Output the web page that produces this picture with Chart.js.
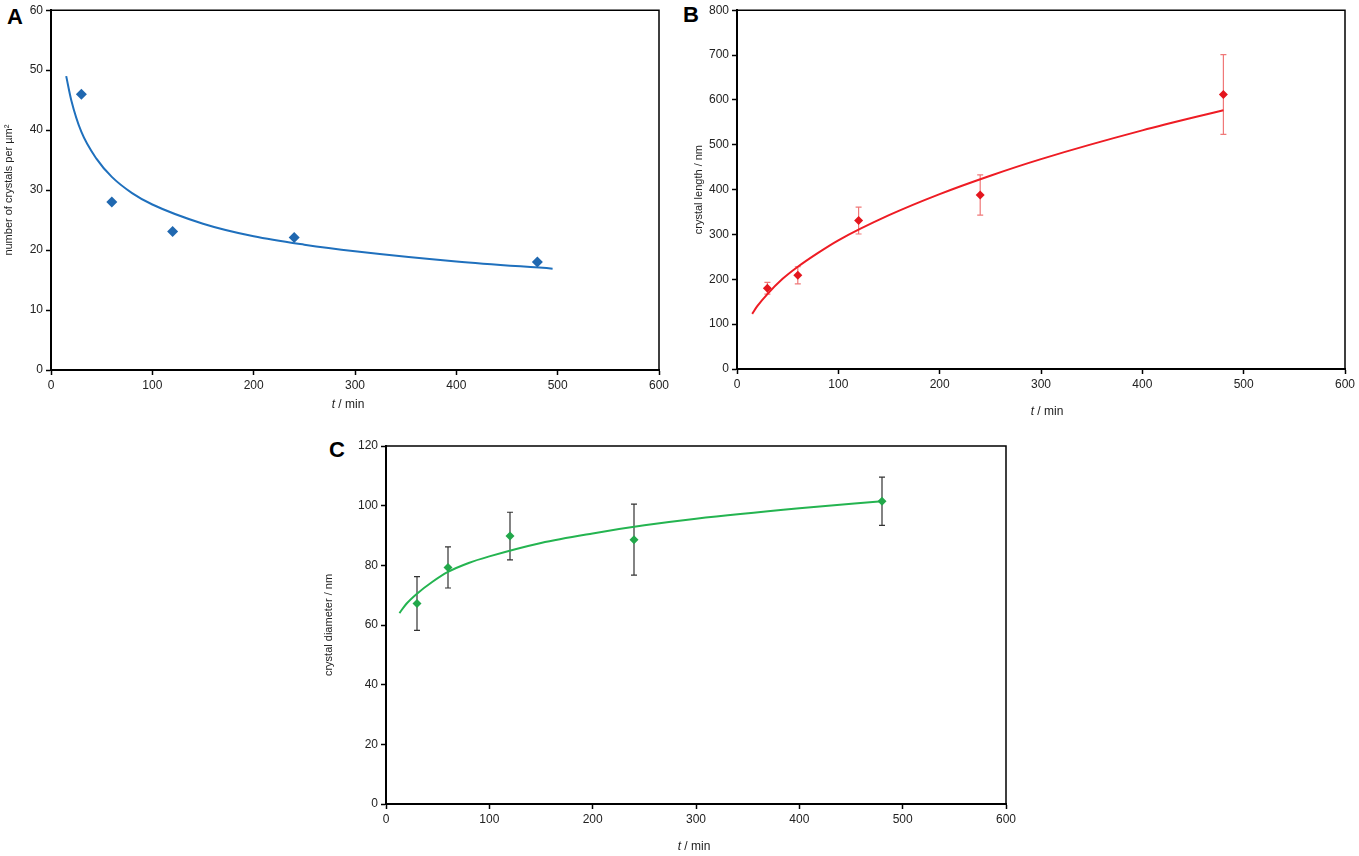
<!DOCTYPE html>
<html>
<head>
<meta charset="utf-8">
<script src="https://cdn.jsdelivr.net/npm/chart.js@4/dist/chart.umd.min.js"></script>
<style>
  body { margin: 0; background: #fff; width: 1359px; height: 856px; position: relative; overflow: hidden; font-family: "Liberation Sans", Arial, sans-serif; }
  canvas { position: absolute; }
  .panel { position: absolute; font-weight: bold; font-size: 22px; color: #000; }
  .xt { position: absolute; font-size: 12px; color: #222; transform: translateX(-50%); white-space: nowrap; }
</style>
</head>
<body>
<div class="panel" style="left:7px;top:4px">A</div>
<div class="panel" style="left:683px;top:2px">B</div>
<div class="panel" style="left:329px;top:437px">C</div>

<canvas id="chartA" width="675" height="420" style="left:0;top:0"></canvas>
<canvas id="chartB" width="669" height="420" style="left:690px;top:0"></canvas>
<canvas id="chartC" width="702" height="426" style="left:320px;top:430px"></canvas>

<div class="xt" style="left:348px;top:397px"><i>t</i> / min</div>
<div class="xt" style="left:1047px;top:404px"><i>t</i> / min</div>
<div class="xt" style="left:694px;top:839px"><i>t</i> / min</div>

<script>
// measured times (min)
let times = [30, 60, 120, 240, 480];

// A: number of crystals per µm²
let countA = [46, 28, 23.1, 22.1, 18];
let fitTimesA = [15, 20, 30, 45, 60, 80, 100, 150, 200, 250, 300, 400, 495];
let fitA = [49, 45, 39.7, 35.2, 32.2, 29.5, 27.6, 24.4, 22.3, 20.9, 19.8, 18.1, 16.9];

// B: crystal length (nm)
let lengthB = [180, 209, 331, 388, 612];
let errB = [13, 19, 30, 45, 89];
let fitTimesB = [15, 20, 30, 45, 60, 80, 100, 150, 200, 250, 300, 400, 480];
let fitB = [123, 140, 167, 201, 228, 259, 287, 343, 390, 431, 468, 532, 577];

// C: crystal diameter (nm)
let diamC = [67.2, 79.3, 89.8, 88.6, 101.5];
let errC = [9, 6.9, 8, 11.9, 8.1];
let fitTimesC = [13, 20, 30, 45, 60, 80, 100, 150, 200, 250, 300, 400, 480];
let fitC = [64, 67.2, 70.5, 74.5, 77.8, 80.8, 83.0, 87.5, 90.7, 93.4, 95.6, 99.1, 101.5];

function pairs(xs, ys) {
    return xs.map((x, i) => ({ x: x, y: ys[i] }));
}

// top and right edges of the frame
let frame = {
    id: 'frame',
    afterDraw(chart) {
        let a = chart.chartArea, c = chart.ctx;
        c.save();
        c.strokeStyle = '#000';
        c.lineWidth = 1.5;
        c.beginPath();
        c.moveTo(a.left, a.top);
        c.lineTo(a.right, a.top);
        c.lineTo(a.right, a.bottom);
        c.stroke();
        c.restore();
    }
};

// error bars from dataset.errors
let errorBars = {
    id: 'errorBars',
    beforeDatasetsDraw(chart) {
        let c = chart.ctx, xs = chart.scales.x, ys = chart.scales.y;
        chart.data.datasets.forEach(ds => {
            if (!ds.errors) return;
            c.save();
            c.strokeStyle = ds.errorColor;
            c.lineWidth = 1.2;
            ds.data.forEach((p, i) => {
                let px = xs.getPixelForValue(p.x);
                let top = ys.getPixelForValue(p.y + ds.errors[i]);
                let bot = ys.getPixelForValue(p.y - ds.errors[i]);
                c.beginPath();
                c.moveTo(px, top); c.lineTo(px, bot);
                c.moveTo(px - 3, top); c.lineTo(px + 3, top);
                c.moveTo(px - 3, bot); c.lineTo(px + 3, bot);
                c.stroke();
            });
            c.restore();
        });
    }
};

function makeChart(id, opts) {
    let tickFont = { family: 'Liberation Sans', size: 12 };
    return new Chart(document.getElementById(id).getContext('2d'), {
        type: 'scatter',
        data: {
            datasets: [{
                data: pairs(times, opts.values),
                errors: opts.errors,
                errorColor: opts.errorColor,
                pointStyle: 'rectRot',
                pointRadius: opts.pointRadius,
                backgroundColor: opts.pointColor,
                borderColor: opts.pointColor,
                borderWidth: 0,
                order: 1
            }, {
                data: pairs(opts.fitTimes, opts.fit),
                showLine: true,
                cubicInterpolationMode: 'monotone',
                pointRadius: 0,
                borderColor: opts.lineColor,
                borderWidth: 2,
                order: 2
            }]
        },
        options: {
            responsive: false,
            animation: false,
            layout: { padding: { top: opts.padTop, right: opts.padRight, left: 0, bottom: 0 } },
            plugins: { legend: { display: false }, tooltip: { enabled: false } },
            scales: {
                x: {
                    type: 'linear', min: 0, max: 600,
                    ticks: { stepSize: 100, color: '#222', font: tickFont, padding: 3, maxRotation: 0 },
                    grid: { drawOnChartArea: false, drawTicks: true, tickLength: 5, tickColor: '#000', tickWidth: 1.5 },
                    border: { display: true, color: '#000', width: 2 },
                    afterFit: s => { s.height = opts.xHeight; }
                },
                y: {
                    min: 0, max: opts.yMax,
                    ticks: { stepSize: opts.yStep, color: '#222', font: tickFont, padding: 3 },
                    grid: { drawOnChartArea: false, drawTicks: true, tickLength: 5, tickColor: '#000', tickWidth: 1.5 },
                    border: { display: true, color: '#000', width: 2 },
                    title: { display: true, text: opts.yTitle, color: '#222', font: { family: 'Liberation Sans', size: 11 }, padding: { top: 2, bottom: 2 } },
                    afterFit: s => { s.width = opts.yWidth; }
                }
            }
        },
        plugins: [frame, errorBars]
    });
}

makeChart('chartA', {
    values: countA, fitTimes: fitTimesA, fit: fitA,
    pointColor: '#2068b0', lineColor: '#1f70bd', pointRadius: 5.5,
    yMax: 60, yStep: 10, yTitle: 'number of crystals per µm²',
    padTop: 9, padRight: 16, xHeight: 50, yWidth: 51
});

makeChart('chartB', {
    values: lengthB, errors: errB, errorColor: '#f07878', fitTimes: fitTimesB, fit: fitB,
    pointColor: '#e4161e', lineColor: '#ee1c24', pointRadius: 4.5,
    yMax: 800, yStep: 100, yTitle: 'crystal length / nm',
    padTop: 9, padRight: 14, xHeight: 51, yWidth: 47
});

makeChart('chartC', {
    values: diamC, errors: errC, errorColor: '#333', fitTimes: fitTimesC, fit: fitC,
    pointColor: '#22a84a', lineColor: '#24b450', pointRadius: 4.5,
    yMax: 120, yStep: 20, yTitle: 'crystal diameter / nm',
    padTop: 16, padRight: 16, xHeight: 52, yWidth: 66
});
</script>
</body>
</html>
